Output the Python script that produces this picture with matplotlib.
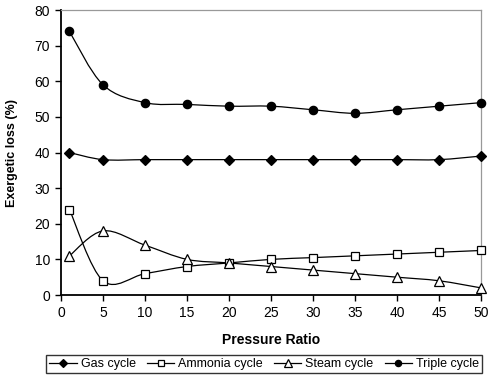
import numpy as np
import matplotlib
matplotlib.use("Agg")
import matplotlib.pyplot as plt
from matplotlib.path import Path
from matplotlib.patches import PathPatch
from matplotlib.lines import Line2D

plt.rcParams['font.family'] = ['Liberation Sans', 'DejaVu Sans']

pressure_ratio = [1, 5, 10, 15, 20, 25, 30, 35, 40, 45, 50]
gas_cycle = [40, 38, 38, 38, 38, 38, 38, 38, 38, 38, 39]
ammonia_cycle = [24, 4, 6, 8, 9, 10, 10.5, 11, 11.5, 12, 12.5]
steam_cycle = [11, 18, 14, 10, 9, 8, 7, 6, 5, 4, 2]
triple_cycle = [74, 59, 54, 53.5, 53, 53, 52, 51, 52, 53, 54]


def smooth_path(x, y):
    """Courbe lissee facon Excel (Bezier type Catmull-Rom)."""
    x = np.asarray(x, float)
    y = np.asarray(y, float)
    n = len(x)
    verts = [(x[0], y[0])]
    codes = [Path.MOVETO]
    for i in range(n - 1):
        x0, y0 = (x[i - 1], y[i - 1]) if i > 0 else (x[i], y[i])
        x3, y3 = (x[i + 2], y[i + 2]) if i + 2 < n else (x[i + 1], y[i + 1])
        c1 = (x[i] + (x[i + 1] - x0) / 6, y[i] + (y[i + 1] - y0) / 6)
        c2 = (x[i + 1] - (x3 - x[i]) / 6, y[i + 1] - (y3 - y[i]) / 6)
        verts += [c1, c2, (x[i + 1], y[i + 1])]
        codes += [Path.CURVE4] * 3
    return Path(verts, codes)


fig = plt.figure(figsize=(4.88, 3.75), dpi=100)
ax = fig.add_axes([0.125, 0.2133, 0.8607, 0.76])

series = [
    ("Gas cycle", gas_cycle, dict(marker="D", markersize=5, mfc="black")),
    ("Ammonia cycle", ammonia_cycle, dict(marker="s", markersize=6, mfc="white")),
    ("Steam cycle", steam_cycle, dict(marker="^", markersize=7, mfc="white")),
    ("Triple cycle", triple_cycle, dict(marker="o", markersize=6, mfc="black")),
]

handles = []
for label, vals, st in series:
    ax.add_patch(PathPatch(smooth_path(pressure_ratio, vals), fc="none",
                           ec="black", lw=0.9, zorder=2))
    ax.plot(pressure_ratio, vals, ls="none", mec="black", mew=0.9,
            zorder=3, clip_on=False, **st)
    leg_st = dict(st)
    leg_st["markersize"] = st["markersize"] * 0.75
    handles.append(Line2D([], [], color="black", lw=0.9, mec="black",
                          mew=0.9, label=label, **leg_st))

ax.set_xlim(0, 50)
ax.set_ylim(0, 80)
ax.set_xticks(range(0, 51, 5))
ax.set_yticks(range(0, 81, 10))
ax.tick_params(direction="out", length=4, width=1, labelsize=10, pad=4)
for s in ("left", "bottom"):
    ax.spines[s].set_linewidth(1.3)
for s in ("top", "right"):
    ax.spines[s].set_color("#999999")
    ax.spines[s].set_linewidth(0.9)

ax.set_xlabel("Pressure Ratio", fontweight="bold", fontsize=10, labelpad=9)
ax.set_ylabel("Exergetic loss (%)", fontweight="bold", fontsize=9, labelpad=12)

leg = fig.legend(handles=handles, loc="lower center", bbox_to_anchor=(0.541, 0.0),
                 ncol=4, fontsize=9, frameon=True, fancybox=False,
                 handlelength=2.2, handletextpad=0.3, columnspacing=0.9,
                 borderpad=0.25, borderaxespad=0.15)
leg.get_frame().set_edgecolor("black")
leg.get_frame().set_linewidth(1.0)

fig.savefig("out.png", dpi=100)
